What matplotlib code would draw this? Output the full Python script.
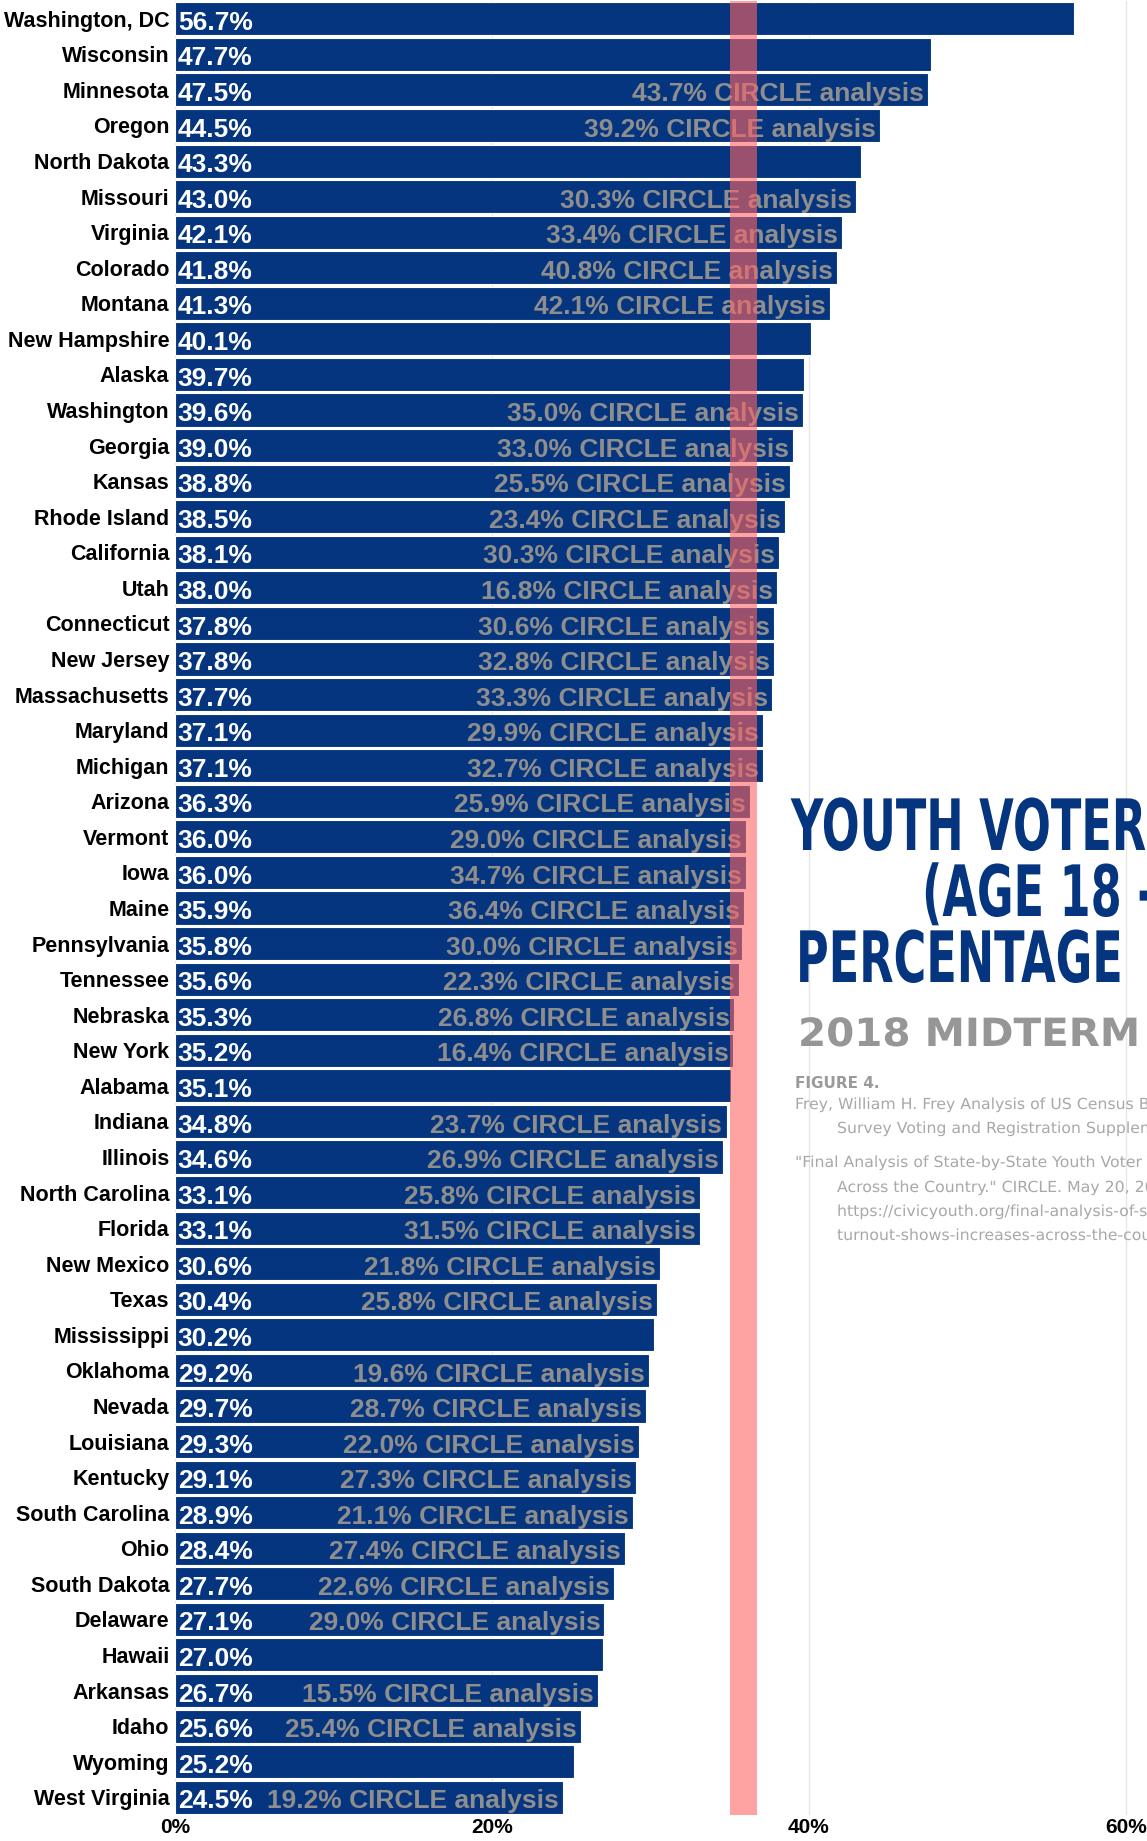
import matplotlib.pyplot as plt
from matplotlib.patheffects import AbstractPathEffect
from matplotlib.transforms import Affine2D

# state turnout (18-29) in the 2018 midterm, Frey analysis of CPS data
states = ['Washington, DC', 'Wisconsin', 'Minnesota', 'Oregon', 'North Dakota',
          'Missouri', 'Virginia', 'Colorado', 'Montana', 'New Hampshire',
          'Alaska', 'Washington', 'Georgia', 'Kansas', 'Rhode Island',
          'California', 'Utah', 'Connecticut', 'New Jersey', 'Massachusetts',
          'Maryland', 'Michigan', 'Arizona', 'Vermont', 'Iowa',
          'Maine', 'Pennsylvania', 'Tennessee', 'Nebraska', 'New York',
          'Alabama', 'Indiana', 'Illinois', 'North Carolina', 'Florida',
          'New Mexico', 'Texas', 'Mississippi', 'Oklahoma', 'Nevada',
          'Louisiana', 'Kentucky', 'South Carolina', 'Ohio', 'South Dakota',
          'Delaware', 'Hawaii', 'Arkansas', 'Idaho', 'Wyoming',
          'West Virginia']

turnout = [56.7, 47.7, 47.5, 44.5, 43.3, 43.0, 42.1, 41.8, 41.3, 40.1,
           39.7, 39.6, 39.0, 38.8, 38.5, 38.1, 38.0, 37.8, 37.8, 37.7,
           37.1, 37.1, 36.3, 36.0, 36.0, 35.9, 35.8, 35.6, 35.3, 35.2,
           35.1, 34.8, 34.6, 33.1, 33.1, 30.6, 30.4, 30.2, 29.9, 29.7,
           29.3, 29.1, 28.9, 28.4, 27.7, 27.1, 27.0, 26.7, 25.6, 25.2,
           24.5]

# labels as printed on the chart (Oklahoma's label differs from its bar)
turnout_labels = ['56.7%', '47.7%', '47.5%', '44.5%', '43.3%', '43.0%', '42.1%',
                  '41.8%', '41.3%', '40.1%', '39.7%', '39.6%', '39.0%', '38.8%',
                  '38.5%', '38.1%', '38.0%', '37.8%', '37.8%', '37.7%', '37.1%',
                  '37.1%', '36.3%', '36.0%', '36.0%', '35.9%', '35.8%', '35.6%',
                  '35.3%', '35.2%', '35.1%', '34.8%', '34.6%', '33.1%', '33.1%',
                  '30.6%', '30.4%', '30.2%', '29.2%', '29.7%', '29.3%', '29.1%',
                  '28.9%', '28.4%', '27.7%', '27.1%', '27.0%', '26.7%', '25.6%',
                  '25.2%', '24.5%']

# CIRCLE estimates, None where not given
circle = [None, None, 43.7, 39.2, None, 30.3, 33.4, 40.8, 42.1, None,
          None, 35.0, 33.0, 25.5, 23.4, 30.3, 16.8, 30.6, 32.8, 33.3,
          29.9, 32.7, 25.9, 29.0, 34.7, 36.4, 30.0, 22.3, 26.8, 16.4,
          None, 23.7, 26.9, 25.8, 31.5, 21.8, 25.8, None, 19.6, 28.7,
          22.0, 27.3, 21.1, 27.4, 22.6, 29.0, None, 15.5, 25.4, None,
          19.2]

band = (35.0, 36.7)
xticks = [0, 20, 40, 60]

navy = '#05357e'


class Stretch(AbstractPathEffect):
    # squeeze/widen glyphs horizontally (no condensed font installed)
    def __init__(self, sx):
        super().__init__()
        self.sx = sx

    def draw_path(self, renderer, gc, tpath, affine, rgbFace=None):
        renderer.draw_path(gc, tpath, Affine2D().scale(self.sx, 1) + affine, rgbFace)


fig = plt.figure(figsize=(11.47, 18.41), dpi=100)
ax = fig.add_axes([175 / 1147, 26 / 1841, 972 / 1147, 1814 / 1841])

y = list(range(len(states)))
ax.barh(y, turnout, height=0.93, color=navy, edgecolor='white', linewidth=0.8, zorder=2)
ax.axvspan(band[0], band[1], color='#ff6464', alpha=0.6, lw=0, zorder=5)

for i in y:
    ax.annotate(turnout_labels[i], (0, i), xytext=(2, -8), textcoords='offset points',
                ha='left', va='baseline', color='white', fontsize=19,
                fontweight='bold', family='Liberation Sans', zorder=4)
    if circle[i] is not None:
        ax.annotate(f'{circle[i]:.1f}% CIRCLE analysis', (turnout[i], i), xytext=(-3, -8),
                    textcoords='offset points', ha='right', va='baseline',
                    color='#8e8e8e', fontsize=19, fontweight='bold',
                    family='Liberation Sans', zorder=4)

ax.set_ylim(len(states) - 0.5, -0.5)
ax.set_xlim(0, 61.33)
ax.set_yticks(y)
ax.set_yticklabels(states, fontsize=15.5, fontweight='bold', family='Liberation Sans')
ax.set_xticks(xticks)
ax.set_xticklabels([f'{t}%' for t in xticks], fontsize=15, fontweight='bold',
                   family='Liberation Sans')
ax.tick_params(axis='y', length=0, pad=4)
ax.tick_params(axis='x', length=0, pad=2)
ax.grid(axis='x', color='#e6e6e6', lw=1, zorder=0)
ax.set_axisbelow(True)
for s in ax.spines.values():
    s.set_visible(False)

# title block on the right, cut off by the figure edge
title_font = dict(family='DejaVu Sans', fontweight='bold', fontsize=51,
                  color=navy, va='baseline', path_effects=[Stretch(0.63)])
fig.text(791 / 1147, 1 - 850 / 1841, 'YOUTH VOTER', **title_font)
fig.text(922 / 1147, 1 - 916 / 1841, '(AGE 18 -', **title_font)
fig.text(796 / 1147, 1 - 982 / 1841, 'PERCENTAGE', **title_font)
fig.text(798 / 1147, 1 - 1046 / 1841, '2018 MIDTERM', family='DejaVu Sans',
         fontweight='bold', fontsize=28, color='#969696', va='baseline',
         path_effects=[Stretch(1.04)])
fig.text(795 / 1147, 1 - 1088 / 1841, 'FIGURE 4.', family='DejaVu Sans',
         fontweight='bold', fontsize=11, color='#9a9a9a', va='baseline')

refs = [(795, 1109, 'Frey, William H. Frey Analysis of US Census Bureau Current Population'),
        (837, 1133, 'Survey Voting and Registration Supplement'),
        (795, 1167, '"Final Analysis of State-by-State Youth Voter Turnout Shows Increases'),
        (837, 1192, 'Across the Country." CIRCLE. May 20, 2019.'),
        (837, 1216, 'https://civicyouth.org/final-analysis-of-state-by-state-youth-voter-'),
        (837, 1240, 'turnout-shows-increases-across-the-country/')]
for rx, ry, txt in refs:
    fig.text(rx / 1147, 1 - ry / 1841, txt, family='DejaVu Sans', fontsize=11,
             color='#a8a8a8', va='baseline', path_effects=[Stretch(1.03)])

fig.savefig('out.png', dpi=100)
